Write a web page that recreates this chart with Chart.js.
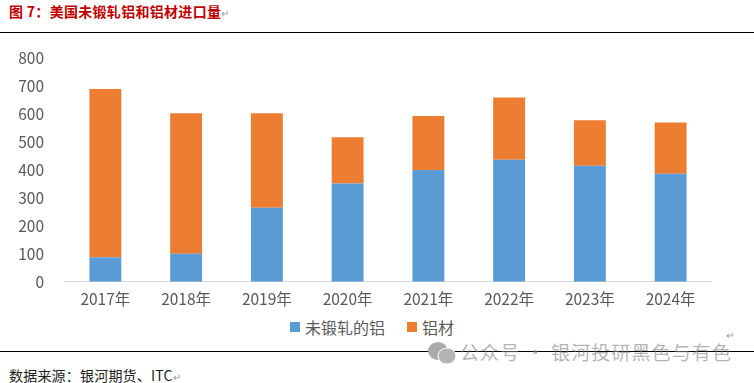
<!DOCTYPE html>
<html lang="zh">
<head>
<meta charset="utf-8">
<script src="https://cdn.jsdelivr.net/npm/chart.js@4/dist/chart.umd.min.js"></script>
<style>
  html, body { margin: 0; padding: 0; background: #fff; }
  body { position: relative; width: 754px; height: 383px; overflow: hidden;
    font-family: "Noto Sans CJK SC", "Liberation Sans", sans-serif; }
  .title { position: absolute; left: 9px; top: 1px; font-size: 14px; line-height: 20px; font-weight: 700; color: #c00000; letter-spacing: .3px; }
  .rule { position: absolute; left: 0; width: 754px; height: 1px; background: #000; }
  .source { position: absolute; left: 9px; top: 365px; font-size: 14px; line-height: 20px; color: #222; letter-spacing: .2px; }
  .mark { color: #999; font-size: 10px; font-weight: 400; }
  .corner { position: absolute; left: 726px; top: 328px; line-height: 14px; }
  .watermark { position: absolute; left: 460px; top: 339px; font-size: 19px; line-height: 26px; color: rgba(130,130,130,.6); letter-spacing: 1.1px; white-space: nowrap; }
  .wechat { position: absolute; left: 427px; top: 341px; }
  .chart-box { position: absolute; left: 0; top: 28px; width: 754px; height: 284px; }
  .legend { position: absolute; left: 290px; top: 316px; height: 22px; display: flex; align-items: center; font-size: 16px; color: #595959; white-space: nowrap; }
  .legend i { width: 10px; height: 10px; margin-right: 5px; }
  .legend span { margin-right: 22px; }
</style>
</head>
<body>
<div class="title">图 7：美国未锻轧铝和铝材进口量<span class="mark">↵</span></div>
<div class="chart-box"><canvas id="chart"></canvas></div>
<div class="legend" id="legend"></div>
<div class="rule" style="top:32px"></div>
<div class="rule" style="top:351px"></div>
<svg class="wechat" width="30" height="24" viewBox="0 0 30 24">
  <ellipse cx="11" cy="10" rx="10" ry="9" fill="#aaa"/>
  <ellipse cx="20" cy="15" rx="9" ry="8" fill="#b4b4b4" stroke="#fff" stroke-width="1"/>
</svg>
<div class="watermark">公众号 · 银河投研黑色与有色</div>
<div class="mark corner">↵</div>
<div class="source">数据来源：银河期货、ITC<span class="mark">↵</span></div>
<script>
const categories = ['2017年', '2018年', '2019年', '2020年', '2021年', '2022年', '2023年', '2024年']
const unwrought = [88, 100, 265, 352, 400, 437, 415, 387]
const products = [602, 503, 338, 165, 193, 223, 163, 183]
const yTicks = [0, 100, 200, 300, 400, 500, 600, 700, 800]

const labelFont = { family: '"Noto Sans CJK SC", "Liberation Sans", sans-serif', size: 15.5 }

// bar width comes from these two, they belong on the datasets
const barStyle = { barPercentage: 0.79, categoryPercentage: 0.5, stack: 'a' }

const chart = new Chart(document.getElementById('chart'), {
  type: 'bar',
  data: {
    labels: categories,
    datasets: [
      { label: '未锻轧的铝', data: unwrought, backgroundColor: '#5b9bd5', ...barStyle },
      { label: '铝材', data: products, backgroundColor: '#ed7d31', ...barStyle },
    ],
  },
  options: {
    responsive: true,
    maintainAspectRatio: false,
    animation: false,
    layout: { padding: { left: 0, right: 43, top: 8, bottom: 0 } },
    plugins: {
      legend: { display: false },
      tooltip: { enabled: false },
    },
    scales: {
      x: {
        stacked: true,
        grid: { display: false },
        border: { display: true, color: '#d9d9d9' },
        ticks: { color: '#595959', font: labelFont, padding: 0, maxRotation: 0 },
      },
      y: {
        stacked: true,
        min: 0,
        max: 800,
        afterFit(axis) { axis.width = 65 },
        afterBuildTicks(axis) { axis.ticks = yTicks.map(value => ({ value })) },
        grid: { display: false, drawTicks: false },
        border: { display: false },
        ticks: { color: '#595959', font: labelFont, padding: 21 },
      },
    },
  },
})

// legend gaps in the picture differ from the built-in one, so build it from the datasets
const legend = document.getElementById('legend')
chart.data.datasets.forEach(ds => {
  const swatch = document.createElement('i')
  swatch.style.background = ds.backgroundColor
  const text = document.createElement('span')
  text.textContent = ds.label
  legend.append(swatch, text)
})
</script>
</body>
</html>
